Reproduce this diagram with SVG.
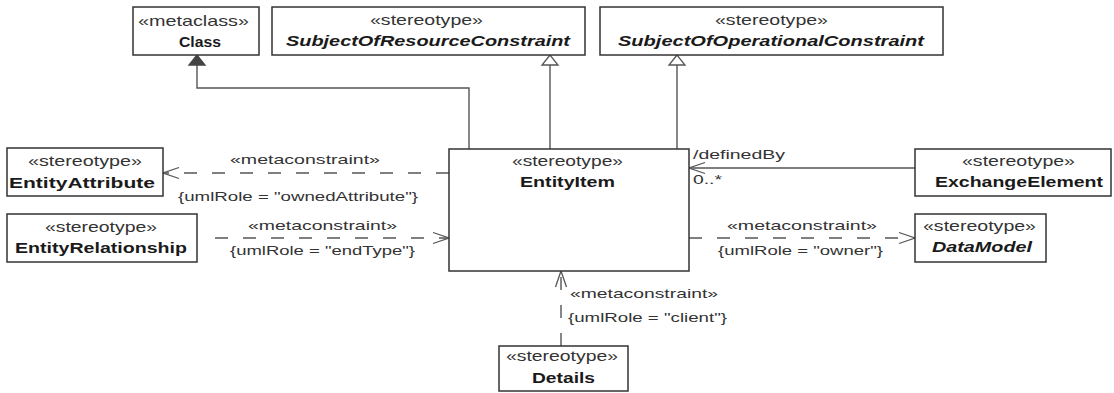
<svg xmlns="http://www.w3.org/2000/svg" width="1114" height="393" viewBox="0 0 1114 393">
<style>
  .box { fill: #ffffff; stroke: #333333; stroke-width: 1.5; }
  .st { font-family: "Liberation Sans", Arial, sans-serif; font-size: 15px; fill: #333333; }
  .nm { font-family: "Liberation Sans", Arial, sans-serif; font-size: 15px; font-weight: bold; fill: #1a1a1a; }
  .ab { font-style: italic; }
  .lb { font-family: "Liberation Sans", Arial, sans-serif; font-size: 13.5px; fill: #333333; }
  .ln { fill: none; stroke: #555555; stroke-width: 1.4; }
  .dash { stroke-dasharray: 13 15; }
</style>
<defs>
  <marker id="open" markerUnits="userSpaceOnUse" viewBox="-18 -8 20 16" markerWidth="20" markerHeight="16" refX="0" refY="0" orient="auto">
    <path d="M-16,-5.5 L0,0 L-16,5.5" fill="none" stroke="#555555" stroke-width="1.3"/>
  </marker>
  <marker id="tri" markerUnits="userSpaceOnUse" viewBox="-12 -10 14 20" markerWidth="14" markerHeight="20" refX="0" refY="0" orient="auto">
    <path d="M0,0 L-10,-8 L-10,8 Z" fill="#ffffff" stroke="#555555" stroke-width="1.3"/>
  </marker>
  <marker id="trifill" markerUnits="userSpaceOnUse" viewBox="-12 -10 14 20" markerWidth="14" markerHeight="20" refX="0" refY="0" orient="auto">
    <path d="M0,0 L-10,-8 L-10,8 Z" fill="#444444" stroke="#444444" stroke-width="1.3"/>
  </marker>
</defs>
<rect width="1114" height="393" fill="#ffffff"/>

<g id="connectors">
  <path class="ln" d="M469,149 V88 H197 V55" marker-end="url(#trifill)"/>
  <path class="ln" d="M550,149 V55" marker-end="url(#tri)"/>
  <path class="ln" d="M677,149 V55" marker-end="url(#tri)"/>
  <path class="ln dash" d="M449,173 H163" marker-end="url(#open)"/>
  <path class="ln dash" d="M215,238 H449" marker-end="url(#open)"/>
  <path class="ln dash" d="M689,238 H915" marker-end="url(#open)"/>
  <path class="ln" d="M915,168 H689" marker-end="url(#open)"/>
  <path class="ln dash" d="M561,346 V271" marker-end="url(#open)"/>
  <text class="lb" x="230" y="164" textLength="150" lengthAdjust="spacingAndGlyphs">«metaconstraint»</text>
  <text class="lb" x="178" y="201" textLength="240" lengthAdjust="spacingAndGlyphs">{umlRole = "ownedAttribute"}</text>
  <text class="lb" x="248" y="230" textLength="149" lengthAdjust="spacingAndGlyphs">«metaconstraint»</text>
  <text class="lb" x="230" y="255" textLength="185" lengthAdjust="spacingAndGlyphs">{umlRole = "endType"}</text>
  <text class="lb" x="727" y="230" textLength="150" lengthAdjust="spacingAndGlyphs">«metaconstraint»</text>
  <text class="lb" x="718" y="255" textLength="165" lengthAdjust="spacingAndGlyphs">{umlRole = "owner"}</text>
  <text class="lb" x="693" y="159" textLength="92" lengthAdjust="spacingAndGlyphs">/definedBy</text>
  <text class="lb" x="693" y="184" textLength="29" lengthAdjust="spacingAndGlyphs">0..*</text>
  <text class="lb" x="570" y="298" textLength="148" lengthAdjust="spacingAndGlyphs">«metaconstraint»</text>
  <text class="lb" x="568" y="322" textLength="159" lengthAdjust="spacingAndGlyphs">{umlRole = "client"}</text>
</g>

<g id="Class">
  <rect class="box" x="133" y="7" width="126" height="48"/>
  <text class="st" x="138" y="26" textLength="111" lengthAdjust="spacingAndGlyphs">«metaclass»</text>
  <text class="nm" x="179" y="47" textLength="42" lengthAdjust="spacingAndGlyphs">Class</text>
</g>
<g id="SubjectOfResourceConstraint">
  <rect class="box" x="272" y="7" width="313" height="48"/>
  <text class="st" x="370" y="25" textLength="113" lengthAdjust="spacingAndGlyphs">«stereotype»</text>
  <text class="nm ab" x="286" y="46" textLength="284" lengthAdjust="spacingAndGlyphs">SubjectOfResourceConstraint</text>
</g>
<g id="SubjectOfOperationalConstraint">
  <rect class="box" x="600" y="7" width="343" height="48"/>
  <text class="st" x="715" y="25" textLength="113" lengthAdjust="spacingAndGlyphs">«stereotype»</text>
  <text class="nm ab" x="618" y="46" textLength="306" lengthAdjust="spacingAndGlyphs">SubjectOfOperationalConstraint</text>
</g>
<g id="EntityAttribute">
  <rect class="box" x="7" y="148" width="156" height="48"/>
  <text class="st" x="28" y="166" textLength="114" lengthAdjust="spacingAndGlyphs">«stereotype»</text>
  <text class="nm" x="9" y="188" textLength="146" lengthAdjust="spacingAndGlyphs">EntityAttribute</text>
</g>
<g id="EntityRelationship">
  <rect class="box" x="7" y="214" width="190" height="48"/>
  <text class="st" x="45" y="232" textLength="112" lengthAdjust="spacingAndGlyphs">«stereotype»</text>
  <text class="nm" x="15" y="253" textLength="172" lengthAdjust="spacingAndGlyphs">EntityRelationship</text>
</g>
<g id="EntityItem">
  <rect class="box" x="449" y="149" width="240" height="122"/>
  <text class="st" x="512" y="166" textLength="111" lengthAdjust="spacingAndGlyphs">«stereotype»</text>
  <text class="nm" x="520" y="187" textLength="95" lengthAdjust="spacingAndGlyphs">EntityItem</text>
</g>
<g id="ExchangeElement">
  <rect class="box" x="915" y="149" width="196" height="47"/>
  <text class="st" x="962" y="166" textLength="113" lengthAdjust="spacingAndGlyphs">«stereotype»</text>
  <text class="nm" x="935" y="187" textLength="168" lengthAdjust="spacingAndGlyphs">ExchangeElement</text>
</g>
<g id="DataModel">
  <rect class="box" x="915" y="214" width="131" height="48"/>
  <text class="st" x="923" y="231" textLength="113" lengthAdjust="spacingAndGlyphs">«stereotype»</text>
  <text class="nm ab" x="932" y="252" textLength="100" lengthAdjust="spacingAndGlyphs">DataModel</text>
</g>
<g id="Details">
  <rect class="box" x="499" y="346" width="129" height="45"/>
  <text class="st" x="506" y="361" textLength="112" lengthAdjust="spacingAndGlyphs">«stereotype»</text>
  <text class="nm" x="532" y="383" textLength="63" lengthAdjust="spacingAndGlyphs">Details</text>
</g>
</svg>
